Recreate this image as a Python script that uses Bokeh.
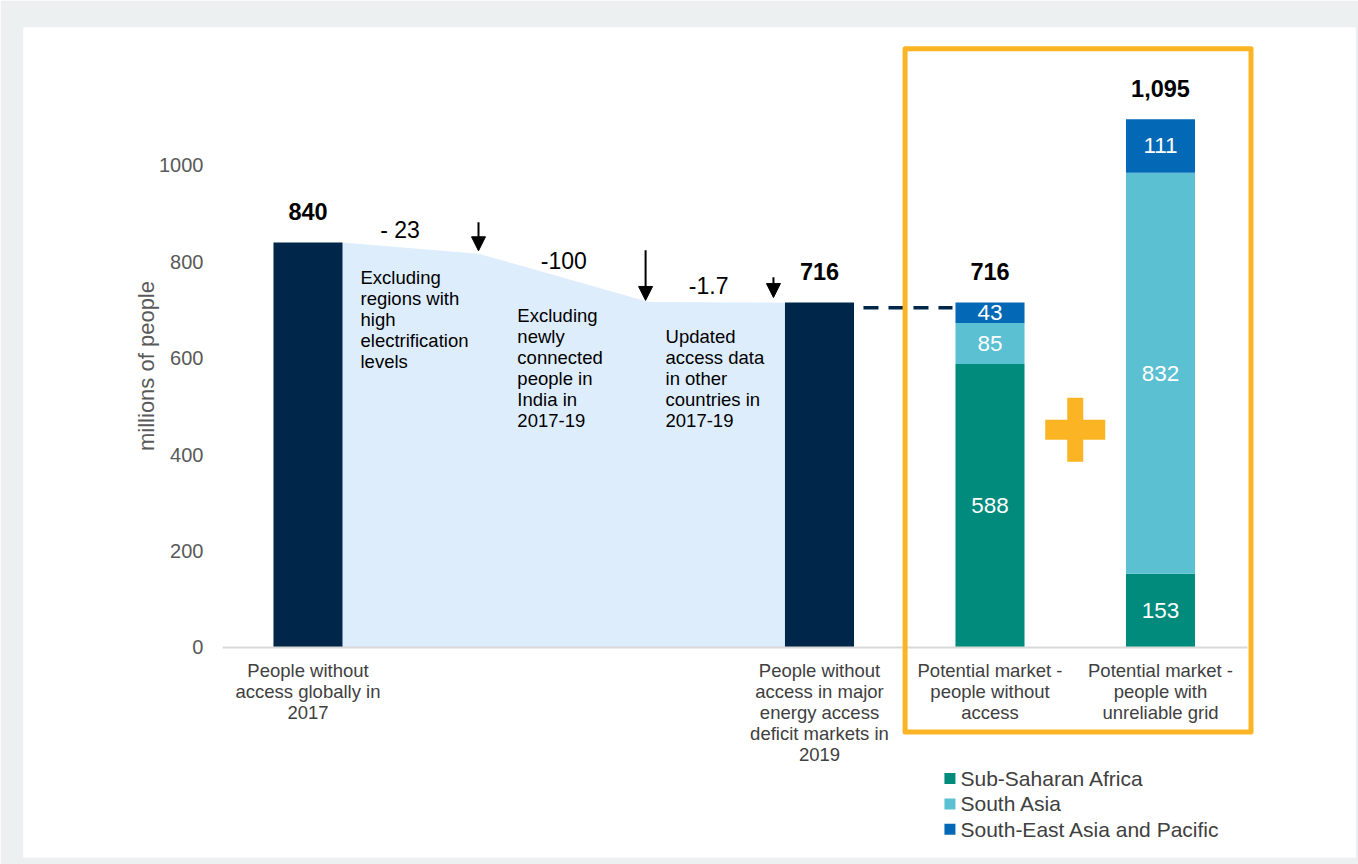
import numpy as np
from bokeh.plotting import figure
from bokeh.models import Range1d, Arrow, NormalHead
from bokeh.core.properties import value
from bokeh.embed import file_html
from bokeh.resources import INLINE

# ---------------- data ----------------
category_labels = [
    "People without\naccess globally in\n2017",
    "People without\naccess in major\nenergy access\ndeficit markets in\n2019",
    "Potential market -\npeople without\naccess",
    "Potential market -\npeople with\nunreliable grid",
]
start_total = 840
end_total = 716
step_values = [-23, -100, -1.7]
step_labels = ["- 23", "-100", "-1.7"]
step_notes = [
    "Excluding\nregions with\nhigh\nelectrification\nlevels",
    "Excluding\nnewly\nconnected\npeople in\nIndia in\n2017-19",
    "Updated\naccess data\nin other\ncountries in\n2017-19",
]
regions = ["Sub-Saharan Africa", "South Asia", "South-East Asia and Pacific"]
no_access = [588, 85, 43]
unreliable_grid = [153, 832, 111]
total_labels = ["840", "716", "716", "1,095"]
y_ticks = [0, 200, 400, 600, 800, 1000]

# ---------------- style ----------------
FONT = "Liberation Sans"
NAVY = "#00264a"
AREA = "#deedfc"
REGION_COLORS = ["#008b7d", "#5bc0d2", "#0369b7"]
ORANGE = "#fbb524"
GRAY_TXT = "#404040"
TICK_TXT = "#595959"

bar_x = [0, 3, 4, 5]
bar_w = 0.405

p = figure(width=1358, height=864, output_backend="svg", toolbar_location=None,
           x_range=Range1d(-1.6686, 6.1437), y_range=Range1d(-435.7, 1286.3),
           x_axis_location=None, y_axis_location=None,
           min_border_left=23, min_border_right=3, min_border_top=27, min_border_bottom=7,
           background_fill_color="white", border_fill_color="#edf0f0",
           outline_line_color=None)
p.grid.visible = False

# ---- waterfall area ----
levels = [start_total]
for s in step_values:
    levels.append(levels[-1] + s)
area_x = [bar_x[0] + bar_w / 2, 1.0, 2.0, bar_x[1] - bar_w / 2]
px = [area_x[0]] + area_x + [area_x[-1]]
py = [0] + levels + [0]
p.patch(px, py, fill_color=AREA, line_color=None)

# ---- total bars ----
p.vbar(x=[bar_x[0], bar_x[1]], top=[start_total, end_total], width=bar_w,
       fill_color=NAVY, line_color=None)

# ---- stacked bars ----
stacks = [no_access, unreliable_grid]
for j, vals in enumerate(stacks):
    bottoms = np.concatenate([[0], np.cumsum(vals)[:-1]])
    tops = np.cumsum(vals)
    xs = [bar_x[2 + j]] * len(vals)
    p.vbar(x=xs, bottom=bottoms, top=tops, width=bar_w,
           fill_color=REGION_COLORS, line_color=None)
    p.text(x=xs, y=(bottoms + tops) / 2, text=[str(v) for v in vals],
           text_font=value(FONT), text_font_size="22.5px", text_color="white",
           text_align="center", text_baseline="middle")

# ---- baseline ----
p.segment(x0=[-0.50], y0=[0], x1=[5.51], y1=[0], line_color="#d9d9d9", line_width=2)

# ---- totals on top ----
bar_tops = [start_total, end_total, sum(no_access), sum(unreliable_grid)]
p.text(x=bar_x, y=bar_tops, text=total_labels, text_font=value(FONT),
       text_font_size="23.5px", text_font_style="bold", text_color="black",
       text_align="center", text_baseline="middle", y_offset=-31)

# ---- step labels, notes and arrows ----
p.text(x=[0.54, 1.50, 2.35], y=[867, 803, 751], text=step_labels,
       text_font=value(FONT), text_font_size="23px", text_color="black",
       text_align="center", text_baseline="middle")
p.text(x=[0.308, 1.228, 2.097], y=[789, 711, 667], text=step_notes,
       text_font=value(FONT), text_font_size="18.5px", text_color="black",
       text_align="left", text_baseline="top", text_line_height=1.0)
arrow_x = [1.0, 1.98, 2.73]
arrow_tail = [882, 824, 768]
arrow_tip = [823, 720, 726]
for ax, at, ah in zip(arrow_x, arrow_tail, arrow_tip):
    p.add_layout(Arrow(end=NormalHead(size=14, fill_color="black", line_color="black"),
                       x_start=ax, y_start=at, x_end=ax, y_end=ah,
                       line_color="black", line_width=2))

# ---- dashed connector ----
p.segment(x0=[3.258], y0=[end_total - 11], x1=[3.78], y1=[end_total - 11],
          line_color=NAVY, line_width=3.5, line_dash="15 10")

# ---- orange box and plus ----
p.quad(left=[3.502], right=[5.531], top=[1242], bottom=[-175.3],
       fill_color=None, line_color=ORANGE, line_width=5, line_join="round")
p.rect(x=[4.5, 4.5], y=[452, 452], width=[16, 60], height=[64, 20],
       width_units="screen", height_units="screen", fill_color=ORANGE, line_color=None)

# ---- category labels ----
p.text(x=bar_x, y=[-25] * 4, text=category_labels, text_font=value(FONT),
       text_font_size="18.5px", text_color=GRAY_TXT, text_align="center",
       text_baseline="top", text_line_height=1.0)

# ---- y tick labels and title ----
p.text(x=[-0.613] * len(y_ticks), y=y_ticks, text=[str(t) for t in y_ticks],
       text_font=value(FONT), text_font_size="20px", text_color=TICK_TXT,
       text_align="right", text_baseline="middle")
p.text(x=[-0.949], y=[584], text=["millions of people"], angle=np.pi / 2,
       text_font=value(FONT), text_font_size="22px", text_color=TICK_TXT,
       text_align="center", text_baseline="middle")

# ---- legend ----
leg_y = [-272 - 52.5 * i for i in range(len(regions))]
p.scatter(x=[3.765] * 3, y=leg_y, marker="square", size=11,
          fill_color=REGION_COLORS, line_color=None)
p.text(x=[3.827] * 3, y=leg_y, text=regions, text_font=value(FONT),
       text_font_size="21px", text_color=GRAY_TXT, text_align="left",
       text_baseline="middle")

open("out.html", "w").write(file_html(p, INLINE))
